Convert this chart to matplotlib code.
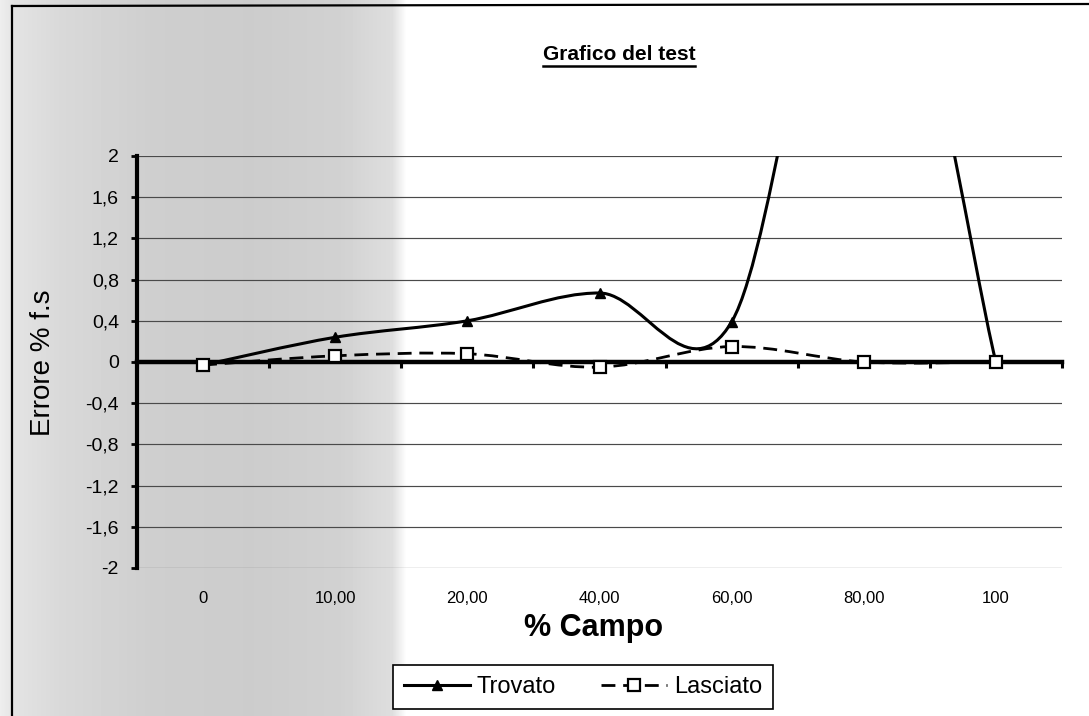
"""
Grafico del test: errore % f.s vs % campo (Trovato / Lasciato)
Ricostruzione di un grafico Excel con linee smussate.
"""

import numpy as np
import matplotlib
matplotlib.use("Agg")
import matplotlib.pyplot as plt
from matplotlib.path import Path
from matplotlib.patches import PathPatch
from matplotlib.lines import Line2D
from matplotlib.ticker import FixedLocator, FuncFormatter

plt.rcParams['font.family'] = ['Liberation Sans', 'DejaVu Sans']

# ──────────────────────────────────────────────
# Dati
# ──────────────────────────────────────────────
categorie = ['0', '10,00', '20,00', '40,00', '60,00', '80,00', '100']
trovato   = [-0.03, 0.24, 0.40, 0.67, 0.39, 5.0, 0.0]
lasciato  = [-0.03, 0.06, 0.08, -0.05, 0.15, 0.0, 0.0]
y_ticks   = [-2, -1.6, -1.2, -0.8, -0.4, 0, 0.4, 0.8, 1.2, 1.6, 2]

titolo   = "Grafico del test"
x_titolo = "% Campo"
y_titolo = "Errore % f.s"

W, H = 1089, 716


def smooth_path(xs, ys):
    """Curva smussata stile Excel (Bezier cubiche tipo Catmull-Rom)."""
    p = np.column_stack([xs, ys]).astype(float)
    ext = np.vstack([p[0], p, p[-1]])
    verts = [p[0]]
    codes = [Path.MOVETO]
    for i in range(len(p) - 1):
        p0, p1, p2, p3 = ext[i], ext[i + 1], ext[i + 2], ext[i + 3]
        c1 = p1 + (p2 - p0) / 6.0
        c2 = p2 - (p3 - p1) / 6.0
        verts += [c1, c2, p2]
        codes += [Path.CURVE4] * 3
    return Path(verts, codes)


fig = plt.figure(figsize=(W / 100, H / 100), dpi=100)
fig.patch.set_facecolor('white')

# fascia grigia della scansione (solo estetica)
bg = fig.add_axes([0, 0, 1, 1], zorder=-10)
nodes_x = [0, 15, 60, 150, 250, 340, 392, 406, W]
nodes_g = [0.93, 0.89, 0.85, 0.81, 0.80, 0.82, 0.87, 1.0, 1.0]
prof = np.interp(np.arange(W), nodes_x, nodes_g)
bg.imshow(np.tile(prof, (H, 1)), cmap='gray', vmin=0, vmax=1,
          aspect='auto', extent=[0, W, H, 0], interpolation='bilinear')
bg.set_xlim(0, W)
bg.set_ylim(H, 0)
bg.axis('off')

# bordo dell'area grafico
fig.add_artist(Line2D([12 / W, 12 / W], [0, 1 - 6 / H], color='black', lw=1.6))
fig.add_artist(Line2D([12 / W, 1], [1 - 6 / H, 1 - 4 / H], color='black', lw=1.6))

ax = fig.add_axes([137 / W, 1 - 568 / H, 925 / W, 412 / H])
ax.patch.set_alpha(0)

x = np.arange(len(categorie))

ax.set_xlim(-0.5, len(categorie) - 0.5)
ax.set_ylim(-2, 2)

# griglia orizzontale
ax.yaxis.set_major_locator(FixedLocator(y_ticks))
ax.yaxis.set_major_formatter(FuncFormatter(
    lambda v, pos: f"{round(v, 1):g}".replace('.', ',')))
ax.yaxis.grid(True, color='#4a4a4a', lw=0.85)
ax.set_axisbelow(True)

# assi
for s in ['bottom', 'right']:
    ax.spines[s].set_visible(False)
ax.spines['left'].set_linewidth(3)
ax.spines['top'].set_position(('data', 0))
ax.spines['top'].set_linewidth(3.2)
ax.spines['top'].set_zorder(2.5)

ax.set_xticks(x)
ax.set_xticklabels(categorie)
ax.set_xticks(np.arange(len(categorie) + 1) - 0.5, minor=True)
ax.tick_params(axis='x', which='major', bottom=False, top=False,
               labelbottom=True, labeltop=False, labelsize=12, pad=13)
ax.tick_params(axis='x', which='minor', bottom=False, top=True,
               direction='in', length=4, width=2.2, labeltop=False)
ax.tick_params(axis='y', which='major', direction='out', length=4,
               width=2, labelsize=14, pad=9)

# serie
ax.add_patch(PathPatch(smooth_path(x, lasciato), fill=False, edgecolor='black',
                       lw=2.0, linestyle=(0, (5, 2.8)), zorder=3))
ax.add_patch(PathPatch(smooth_path(x, trovato), fill=False, edgecolor='black',
                       lw=2.2, zorder=3.2))
ax.plot(x, trovato, linestyle='none', marker='^', markersize=7,
        color='black', zorder=4)
ax.plot(x, lasciato, linestyle='none', marker='s', markersize=8,
        markerfacecolor='white', markeredgecolor='black',
        markeredgewidth=1.6, zorder=5)

# testi
t = fig.text(619 / W, 1 - 55 / H, titolo, ha='center', va='center',
             fontsize=15, fontweight='bold')
fig.text(594 / W, 1 - 628 / H, x_titolo, ha='center', va='center',
         fontsize=22, fontweight='bold')
fig.text(43 / W, 1 - 363 / H, y_titolo, ha='center', va='center',
         fontsize=20, rotation=90)

# legenda
h_trov = Line2D([], [], color='black', lw=2.2, marker='^', markersize=7)
h_lasc = Line2D([], [], color='black', lw=2.0, linestyle=(0, (5, 2.8)),
                marker='s', markersize=8, markerfacecolor='white',
                markeredgewidth=1.6)
leg = ax.legend([h_trov, h_lasc], ['Trovato', 'Lasciato'], ncol=2,
                loc='center', bbox_to_anchor=(583 / W, 1 - 687 / H),
                bbox_transform=fig.transFigure, fontsize=17, frameon=True,
                fancybox=False, edgecolor='black', framealpha=1,
                handlelength=2.8, handletextpad=0.3, columnspacing=1.9,
                borderpad=0.45, borderaxespad=0)
leg.get_frame().set_linewidth(1.2)

# sottolineatura del titolo
fig.canvas.draw()
bb = t.get_window_extent()
yl = (bb.y0 - 1) / H
fig.add_artist(Line2D([bb.x0 / W, bb.x1 / W], [yl, yl], color='black', lw=1.8))

plt.savefig("out.png", dpi=100)
